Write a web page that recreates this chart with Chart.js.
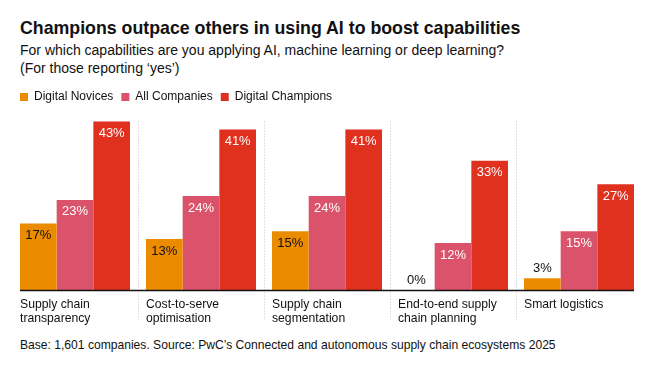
<!DOCTYPE html>
<html>
<head>
<meta charset="utf-8">
<script src="https://cdn.jsdelivr.net/npm/chart.js@4.4.1/dist/chart.umd.min.js"></script>
<style>
  html, body { margin: 0; padding: 0; background: #fff; }
  body {
    width: 655px; height: 368px; position: relative; overflow: hidden;
    font-family: 'Liberation Sans', Arial, Helvetica, sans-serif; color: #111;
  }
  #title { position: absolute; left: 20px; top: 18px; font-size: 17.75px; font-weight: bold; line-height: 20px; white-space: nowrap; }
  #subtitle { position: absolute; left: 20px; top: 42.4px; font-size: 14px; line-height: 17.5px; white-space: nowrap; }
  #footer { position: absolute; left: 20px; top: 338px; font-size: 12.1px; line-height: 14px; white-space: nowrap; }
  #wrap { position: absolute; left: 0; top: 80px; width: 655px; height: 250px; }
</style>
</head>
<body>
<div id="title">Champions outpace others in using AI to boost capabilities</div>
<div id="subtitle">For which capabilities are you applying AI, machine learning or deep learning?<br>(For those reporting ‘yes’)</div>
<div id="wrap"><canvas id="chart" width="655" height="250"></canvas></div>
<div id="footer">Base: 1,601 companies. Source: PwC’s Connected and autonomous supply chain ecosystems 2025</div>

<script>
// Данные графика
const categories = [
    ['Supply chain', 'transparency'],
    ['Cost-to-serve', 'optimisation'],
    ['Supply chain', 'segmentation'],
    ['End-to-end supply', 'chain planning'],
    'Smart logistics'
];
const seriesNames = ['Digital Novices', 'All Companies', 'Digital Champions'];
const novices = [17, 13, 15, 0, 3];
const allCompanies = [23, 24, 24, 12, 15];
const champions = [43, 41, 41, 33, 27];

const FONT = "'Liberation Sans', Arial, Helvetica, sans-serif";
const colors = ['#EB8C00', '#DB536A', '#E0301E'];
const labelColors = ['#111', '#fff', '#fff'];

// Разделители, линия оси и подписи значений
const decor = {
    id: 'decor',
    beforeDatasetsDraw(chart) {
        const { ctx, scales: { x, y } } = chart;
        ctx.save();
        ctx.strokeStyle = '#c4c4c4';
        ctx.lineWidth = 1;
        ctx.setLineDash([1, 2]);
        for (let i = 0; i < categories.length - 1; i++) {
            const xb = Math.round((x.getPixelForValue(i) + x.getPixelForValue(i + 1)) / 2) + 0.5;
            ctx.beginPath();
            ctx.moveTo(xb, y.getPixelForValue(43));
            ctx.lineTo(xb, y.getPixelForValue(0) + 30);
            ctx.stroke();
        }
        ctx.restore();
    },
    afterDatasetsDraw(chart) {
        const { ctx, scales: { y } } = chart;
        const first = chart.getDatasetMeta(0).data[0];
        const last = chart.getDatasetMeta(2).data[categories.length - 1];
        const y0 = y.getPixelForValue(0);

        ctx.save();
        ctx.strokeStyle = '#111';
        ctx.lineWidth = 1.6;
        ctx.beginPath();
        ctx.moveTo(first.x - first.width / 2, y0 + 0.5);
        ctx.lineTo(last.x + last.width / 2, y0 + 0.5);
        ctx.stroke();

        ctx.font = '13px ' + FONT;
        ctx.textAlign = 'center';
        ctx.textBaseline = 'alphabetic';
        chart.data.datasets.forEach((ds, di) => {
            chart.getDatasetMeta(di).data.forEach((el, i) => {
                const v = ds.data[i];
                if (v < 5) {
                    ctx.fillStyle = '#111';
                    ctx.fillText(v + '%', el.x, el.y - 6);
                } else {
                    ctx.fillStyle = labelColors[di];
                    ctx.fillText(v + '%', el.x, el.y + 15.5);
                }
            });
        });
        ctx.restore();
    }
};

new Chart(document.getElementById('chart'), {
    type: 'bar',
    data: {
        labels: categories,
        datasets: [novices, allCompanies, champions].map((d, i) => ({
            label: seriesNames[i],
            data: d,
            backgroundColor: colors[i],
            borderWidth: 0,
            categoryPercentage: 0.873,
            barPercentage: 1
        }))
    },
    options: {
        responsive: false,
        animation: false,
        layout: { padding: { top: 3, left: 12, right: 13, bottom: 0 } },
        plugins: {
            legend: {
                position: 'top',
                align: 'start',
                labels: {
                    boxWidth: 8,
                    boxHeight: 8,
                    padding: 8,
                    color: '#111',
                    font: { size: 12, family: FONT }
                }
            },
            tooltip: { enabled: false }
        },
        scales: {
            x: {
                grid: { display: false, drawTicks: false },
                border: { display: false },
                ticks: {
                    align: 'start',
                    labelOffset: -55,
                    padding: 8,
                    color: '#111',
                    maxRotation: 0,
                    autoSkip: false,
                    font: { size: 12.2, family: FONT, lineHeight: 1.115 }
                },
                afterFit(scale) {
                    // подписи выровнены влево — лишние поля не нужны
                    scale.height = 40;
                    scale.paddingLeft = 0;
                    scale.paddingRight = 0;
                }
            },
            y: { display: false, min: 0, max: 45.2 }
        }
    },
    plugins: [decor]
});
</script>
</body>
</html>
